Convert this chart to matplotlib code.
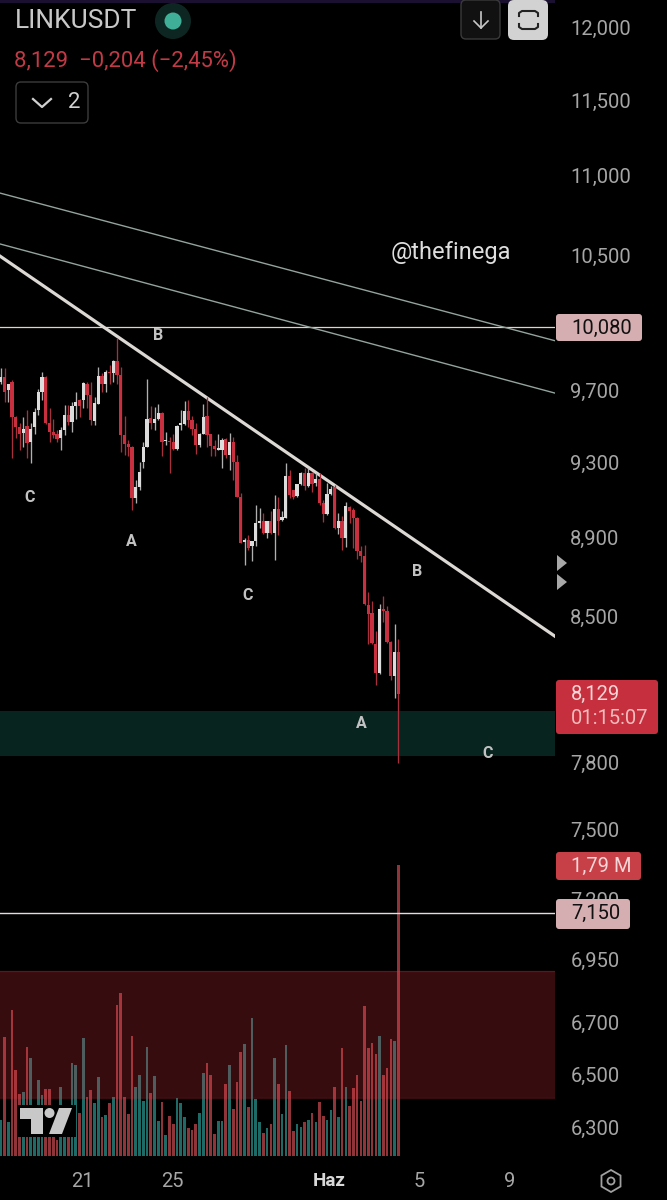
import numpy as np
import matplotlib
matplotlib.use("Agg")
import matplotlib.pyplot as plt
from matplotlib.patches import FancyBboxPatch, Rectangle, Polygon, Circle
from matplotlib.ticker import NullLocator
from matplotlib.transforms import ScaledTranslation

plt.rcParams['font.family'] = ['Roboto', 'DejaVu Sans']

opens = [9759,9787,9712,9759,9561,9505,9472,9509,9423,9505,9599,9702,9787,9528,9478,9465,9441,9487,9571,9534,
         9621,9654,9654,9749,9683,9539,9635,9791,9745,9818,9811,9879,9797,9459,9410,9396,9116,9175,9310,9396,
         9557,9528,9548,9584,9425,9426,9423,9381,9513,9521,9595,9543,9496,9403,9468,9565,9465,9399,9378,9380,
         9436,9350,9423,9313,9125,8883,8897,8863,8889,8985,8994,8931,8994,8931,9058,8998,9013,9235,9158,9129,
         9190,9253,9179,9250,9197,9218,9093,9033,9140,9175,8957,8994,8906,9071,9055,9009,8837,8812,8564,8524,
         8372,8227,8544,8534,8382,8213,8333]
closes = [9787,9702,9749,9561,9505,9468,9496,9414,9496,9589,9702,9787,9524,9478,9459,9436,9487,9571,9534,9621,
          9644,9621,9753,9683,9543,9639,9791,9745,9818,9807,9879,9797,9459,9410,9396,9116,9178,9259,9396,9551,
          9528,9548,9584,9423,9432,9423,9381,9509,9524,9595,9543,9496,9405,9468,9561,9459,9399,9381,9387,9432,
          9350,9423,9313,9125,8880,8894,8855,8889,8985,8994,8931,8994,8931,9058,8994,9015,9235,9135,9125,9190,
          9253,9184,9250,9194,9218,9089,9033,9140,9168,8957,8994,8906,9075,9046,9009,8837,8812,8568,8519,8377,
          8227,8544,8534,8382,8213,8333,8129]
highs = [9837,9837,9749,9769,9565,9524,9561,9599,9524,9609,9721,9818,9790,9609,9551,9487,9505,9627,9627,9644,
         9702,9664,9759,9759,9759,9673,9846,9807,9828,9855,9883,10015,9846,9565,9432,9399,9214,9313,9423,9773,
         9621,9618,9635,9589,9478,9450,9468,9515,9599,9650,9658,9565,9524,9470,9635,9673,9468,9432,9463,9441,
         9441,9473,9450,9350,9143,8906,8923,8892,9080,9062,9036,8996,9046,9135,9125,9046,9305,9268,9161,9194,
         9259,9277,9277,9259,9250,9250,9107,9197,9179,9188,9040,9022,9098,9075,9062,9018,8863,8872,8629,8583,
         8435,8569,8608,8559,8386,8469,8396]
lows = [9749,9644,9644,9333,9441,9378,9396,9333,9306,9468,9571,9654,9520,9423,9441,9423,9378,9459,9515,9478,
        9551,9561,9609,9609,9515,9515,9632,9702,9702,9749,9759,9749,9368,9351,9342,9054,9089,9160,9277,9392,
        9496,9487,9543,9342,9405,9250,9378,9378,9487,9518,9505,9459,9356,9396,9465,9396,9342,9342,9376,9277,
        9332,9268,9215,9121,8878,8764,8843,8788,8863,8957,8929,8906,8929,8793,8923,8994,9011,9116,9110,9121,
        9188,9161,9177,9152,9179,9080,8988,9027,9135,8955,8928,8846,8860,8985,8855,8796,8780,8563,8372,8372,
        8170,8225,8479,8377,8194,8108,7807]
volumes_m = [.221,.734,.211,.898,.529,.381,.396,.672,.600,.150,.467,.375,.410,.410,.120,.100,.426,.140,.300,.574,
             .560,.262,.724,.361,.406,.324,.488,.242,.252,.324,.365,.929,1.005,.361,.258,.740,.422,.498,.338,.672,
             .385,.492,.217,.330,.129,.248,.197,.359,.324,.242,.170,.160,.197,.262,.512,.570,.496,.135,.215,.215,
             .443,.560,.287,.457,.642,.689,.299,.851,.349,.207,.144,.172,.197,.605,.441,.258,.685,.400,.156,.195,
             .176,.211,.221,.262,.211,.330,.246,.221,.283,.426,.238,.666,.422,.310,.420,.498,.338,.923,.662,.693,
             .627,.740,.500,.541,.718,.707,1.79]
price_ticks = [12000,11500,11000,10500,9700,9300,8900,8500,7800,7500,7200,6950,6700,6500,6300]
price_tick_labels = ['12,000','11,500','11,000','10,500','9,700','9,300','8,900','8,500','7,800','7,500','7,200','6,950','6,700','6,500','6,300']
date_ticks = [21, 25, 32, 36, 40]
date_labels = ['21', '25', 'Haz', '5', '9']
level_upper = 10080
level_lower = 7150
last_price = 8129
demand_zone = (7838, 8048)
volume_zone = (6414, 6910)
trend_days = (17.356, 42.02)
trend_thick = (10505, 8408)
trend_thin_a = (10900, 9997)
trend_thin_b = (10580, 9695)

W, H = 667, 1200
fig = plt.figure(figsize=(W/100, H/100), dpi=100, facecolor='black')
def frame(l, t, r, b):
    return [l/W, 1-b/H, (r-l)/W, (b-t)/H]

opens, closes, highs, lows = map(np.array, (opens, closes, highs, lows))
n = len(opens)
days = 17.39 + np.arange(n)/6
up = closes >= opens
xlim = trend_days
RED, WHITE = '#c8303f', '#dcdcdc'

# volume pane (under everything)
av = fig.add_axes(frame(0, 840, 555, 1156), zorder=1)
av.set_axis_off()
av.set_xlim(*xlim); av.set_ylim(0, 1.943)
av.bar(days, volumes_m, width=0.115, color=['#1d6a66' if u else '#8f3439' for u in up], linewidth=0)

# price pane
ax = fig.add_axes(frame(0, 0, 555, 1160), zorder=2)
ax.patch.set_visible(False)
ax.set_yscale('log')
ax.set_xlim(*xlim); ax.set_ylim(6187, 12205)
for s in ax.spines.values():
    s.set_visible(False)
ax.axhspan(*demand_zone, color='#12564a', alpha=0.42, lw=0, zorder=1)
ax.axhspan(*volume_zone, facecolor='#f23645', alpha=0.23, lw=0, zorder=1)
for v in volume_zone:
    ax.axhline(v, color='#f23645', alpha=0.22, lw=1, zorder=1)
ax.axhline(level_upper, color='#e6cfcd', lw=0.9, zorder=2)
ax.axhline(level_lower, color='#e6dcdc', lw=1, zorder=2)
ax.plot(trend_days, trend_thin_a, color='#93a39e', lw=1.0, zorder=3)
ax.plot(trend_days, trend_thin_b, color='#93a39e', lw=1.0, zorder=3)
ax.plot(trend_days, trend_thick, color='#dcd8d4', lw=2.3, zorder=3)
ax.vlines(days, lows, highs, colors=['#b0b0b0' if u else '#a8303c' for u in up], lw=0.95, zorder=4)
ax.bar(days, np.maximum(np.abs(closes-opens), 3), bottom=np.minimum(opens, closes), width=0.15,
       color=[WHITE if u else RED for u in up], linewidth=0, zorder=5)

ax.yaxis.tick_right()
ax.set_yticks(price_ticks, labels=price_tick_labels)
ax.yaxis.set_minor_locator(NullLocator())
ax.set_xticks(date_ticks, labels=date_labels)
ax.tick_params(axis='both', length=0, labelsize=14.5, labelcolor='#a6a6a6')
ax.tick_params(axis='y', pad=11)
ax.tick_params(axis='x', pad=8.5)
up_shift = ScaledTranslation(0, 1.2/72, fig.dpi_scale_trans)
for tick in ax.yaxis.get_major_ticks():
    tick.label2.set_transform(tick.label2.get_transform() + up_shift)
for lab in ax.get_xticklabels():
    if lab.get_text() == 'Haz':
        lab.set_color('#d8d8d8'); lab.set_fontweight('bold'); lab.set_fontsize(13.5)

# pixel overlay for tags, annotations and the app's interface
ui = fig.add_axes([0, 0, 1, 1], zorder=3)
ui.set_axis_off(); ui.set_xlim(0, W); ui.set_ylim(H, 0); ui.patch.set_visible(False)

def box(l, t, r, b, fc, ec='none', rad=3, z=3):
    ui.add_patch(FancyBboxPatch((l+rad, t+rad), r-l-2*rad, b-t-2*rad, boxstyle=f'round,pad={rad},rounding_size={rad}',
                                fc=fc, ec=ec, lw=1, zorder=z))
def txt(x, y, s, size, color, ha='left', weight='normal', z=5):
    ui.text(x, y+1, s, fontsize=size, color=color, ha=ha, va='center', fontweight=weight, zorder=z)

ui.add_patch(Rectangle((0, 0), 555, 3, fc='#1b1030', lw=0))
# tags
box(556, 314, 642, 341, '#d4aeb0'); txt(571, 327, '10,080', 14.5, '#111111')
box(556, 680, 658, 734, '#c62f3e')
txt(571, 693, '8,129', 14.5, '#f6d6d6'); txt(571, 717, '01:15:07', 14.5, '#f0bcbc')
box(556, 852, 641, 880, '#c74048'); txt(571, 865, '1,79 M', 14.5, '#f6d6d6')
box(556, 899, 630, 929, '#d4aeb0'); txt(571, 912, '7,150', 14.5, '#111111')

# wave labels
for x, y, s in [(158,335,'B'),(30,497,'C'),(131,541,'A'),(248,595,'C'),(417,571,'B'),(361,723,'A'),(488,753,'C')]:
    txt(x, y, s, 11.5, '#c2c2c2', ha='center', weight='bold')
txt(391, 251, '@thefinega', 17, '#dedede')

# header
txt(15, 20, 'LINKUSDT', 19, '#c8c8c8')
ui.add_patch(Circle((173, 21), 18, fc='#0e2622', lw=0))
ui.add_patch(Circle((173, 21), 8.5, fc='#3fb097', lw=0))
txt(14, 59.5, '8,129  \u22120,204 (\u22122,45%)', 15.8, '#c23a46')
box(16, 82, 88, 123, 'black', ec='#3c3c3c', rad=5)
ui.plot([33, 42, 51], [99, 107, 99], color='#d0d0d0', lw=1.6, zorder=6)
txt(68, 101, '2', 16, '#d0d0d0')
box(461, 0, 500, 39, '#111111', ec='#3a3a3a', rad=5)
ui.plot([481, 481], [12, 28], color='#c8c8c8', lw=1.2, zorder=6)
ui.plot([474, 481, 488], [21, 28, 21], color='#c8c8c8', lw=1.2, zorder=6)
box(508, 0, 548, 40, '#d2d2d2', rad=6)
for a, b in [([519,519,522,535,538,538],[16,13,11,11,13,16]), ([519,519,522,535,538,538],[24,27,29,29,27,24])]:
    ui.plot(a, b, color='#222222', lw=1.5, zorder=6)

# right-edge handles
for y in (563, 582):
    ui.add_patch(Polygon([(557, y-8), (567, y), (557, y+8)], fc='#a8a8a8', lw=0))

# logo
ui.add_patch(Rectangle((17, 1105), 59, 32, fc='black', lw=0))
LOGO = '#c8c8c8'
ui.add_patch(Polygon([(20,1108),(43,1108),(43,1134),(31,1134),(31,1119),(20,1119)], fc=LOGO, lw=0))
ui.add_patch(Circle((49.5, 1113), 5, fc=LOGO, lw=0))
ui.add_patch(Polygon([(59,1108),(72,1108),(62,1134),(49,1134)], fc=LOGO, lw=0))

# settings hexagon
hex_a = np.deg2rad(np.arange(30, 390, 60))
ui.add_patch(Polygon(np.c_[611+11*np.cos(hex_a), 1181+11*np.sin(hex_a)], fc='none', ec='#a0a0a0', lw=1.3))
ui.add_patch(Circle((611, 1181), 3.5, fc='none', ec='#a0a0a0', lw=1.3))

fig.savefig('out.png', dpi=100, facecolor='black')
